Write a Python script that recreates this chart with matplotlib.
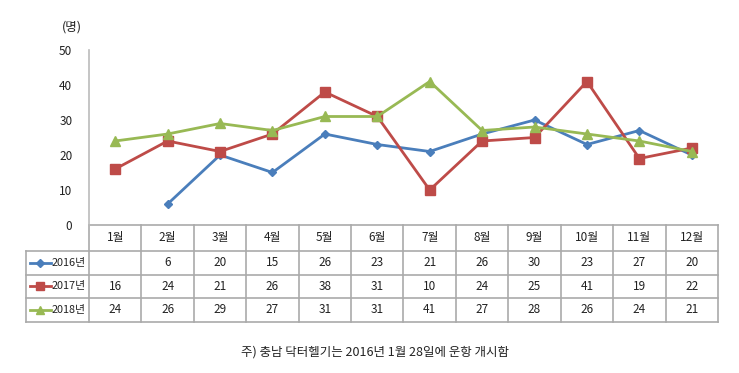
import matplotlib
matplotlib.use("Agg")
import matplotlib.pyplot as plt
from matplotlib.lines import Line2D
from matplotlib.transforms import blended_transform_factory
import numpy as np

plt.rcParams["font.family"] = ["Noto Sans CJK KR", "DejaVu Sans"]

months = ["1월", "2월", "3월", "4월", "5월", "6월", "7월", "8월", "9월", "10월", "11월", "12월"]
years = ["2016년", "2017년", "2018년"]
v2016 = [None, 6, 20, 15, 26, 23, 21, 26, 30, 23, 27, 20]
v2017 = [16, 24, 21, 26, 38, 31, 10, 24, 25, 41, 19, 22]
v2018 = [24, 26, 29, 27, 31, 31, 41, 27, 28, 26, 24, 21]
yticks = [0, 10, 20, 30, 40, 50]

colors = ["#4A7EBB", "#BE4B48", "#98B954"]
markers = ["D", "s", "^"]
msizes = [4.5, 6.5, 7]
series = [v2016, v2017, v2018]

W, H = 739, 373
fig = plt.figure(figsize=(W / 100, H / 100), dpi=100)
ax_l, ax_r, ax_t, ax_b = 89, 718, 50, 225
ax = fig.add_axes([ax_l / W, 1 - ax_b / H, (ax_r - ax_l) / W, (ax_b - ax_t) / H])

x = np.arange(len(months))
for vals, c, m, ms in zip(series, colors, markers, msizes):
    y = np.array([np.nan if v is None else v for v in vals], dtype=float)
    ax.plot(x, y, color=c, lw=2, marker=m, ms=ms, mfc=c, mec=c, zorder=3)

ax.set_xlim(-0.5, len(months) - 0.5)
ax.set_ylim(0, 50)
ax.set_yticks(yticks)
ax.set_xticks([])
ax.tick_params(axis="y", length=0, pad=12, labelsize=8.5, colors="#222222")
for s in ["top", "right", "bottom"]:
    ax.spines[s].set_visible(False)
ax.spines["left"].set_color("#BBBBBB")
ax.spines["left"].set_linewidth(1.2)

fig.text(72 / W, 1 - 27 / H, "(명)", fontsize=9, ha="center", va="center", color="#222222")

# data table below the axes
tr = blended_transform_factory(ax.transData, ax.transAxes)
ah = ax_b - ax_t
rows_px = [225, 251, 275, 298, 322]
rows_y = [(ax_b - p) / ah for p in rows_px]
colw = (ax_r - ax_l) / len(months)

def px2x(p):
    return (p - ax_l) / colw - 0.5

x_left = px2x(26)
x_right = len(months) - 0.5
gc = "#AAAAAA"
tc = "#222222"

def hline(x0, x1, yy):
    ax.add_line(Line2D([x0, x1], [yy, yy], transform=tr, color=gc, lw=1.2, clip_on=False))

def vline(xx, y0, y1):
    ax.add_line(Line2D([xx, xx], [y0, y1], transform=tr, color=gc, lw=1.2, clip_on=False))

hline(-0.5, x_right, rows_y[0])
for yy in rows_y[1:]:
    hline(x_left, x_right, yy)
for i in range(len(months) + 1):
    vline(i - 0.5, rows_y[0], rows_y[-1])
vline(x_left, rows_y[1], rows_y[-1])

for i, mname in enumerate(months):
    ax.text(i, (rows_y[0] + rows_y[1]) / 2, mname, transform=tr, ha="center", va="center",
            fontsize=8.5, color=tc)

for r, (yr, vals, c, m, ms) in enumerate(zip(years, series, colors, markers, msizes)):
    yc = (rows_y[r + 1] + rows_y[r + 2]) / 2
    for i, v in enumerate(vals):
        if v is not None:
            ax.text(i, yc, str(v), transform=tr, ha="center", va="center", fontsize=8.5, color=tc)
    lx0, lx1 = px2x(30), px2x(51)
    ax.add_line(Line2D([lx0, lx1], [yc, yc], transform=tr, color=c, lw=2, clip_on=False))
    ax.add_line(Line2D([(lx0 + lx1) / 2], [yc], transform=tr, color=c, marker=m, ms=ms * 0.8,
                       mfc=c, mec=c, clip_on=False))
    ax.text(px2x(86), yc, yr, transform=tr, ha="right", va="center", fontsize=7.8, color=tc)

fig.text(375 / W, 1 - 352 / H, "주) 충남 닥터헬기는 2016년 1월 28일에 운항 개시함", fontsize=9,
         ha="center", va="center", color=tc)

fig.savefig("out.png", dpi=100)
